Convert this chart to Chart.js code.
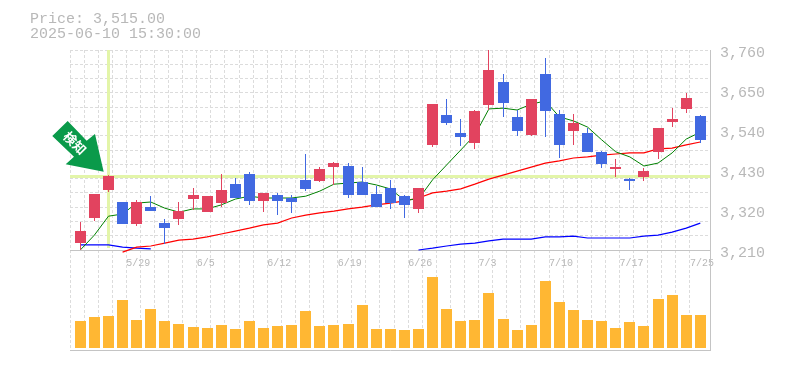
<!DOCTYPE html>
<html>
<head>
<meta charset="utf-8">
<script src="https://cdn.jsdelivr.net/npm/chart.js@4"></script>
<style>
  body { margin: 0; background: #fff; }
  canvas { display: block; }
</style>
</head>
<body>
<canvas id="MyChart" width="785" height="370"></canvas>
<script>
const dates = ['5/23','5/26','5/27','5/28','5/29','5/30','6/2','6/3','6/4','6/5','6/6','6/9','6/10','6/11','6/12','6/13','6/16','6/17','6/18','6/19','6/20','6/23','6/24','6/25','6/26','6/27','6/30','7/1','7/2','7/3','7/4','7/7','7/8','7/9','7/10','7/11','7/14','7/15','7/16','7/17','7/18','7/22','7/23','7/24','7/25'];
const opens = [3229,3298,3375,3342,3281,3328,3284,3295,3350,3314,3339,3391,3419,3345,3361,3353,3403,3400,3438,3441,3397,3364,3380,3358,3323,3499,3581,3532,3504,3609,3672,3576,3526,3694,3584,3537,3532,3480,3433,3405,3411,3480,3562,3598,3578];
const closes = [3262,3364,3413,3281,3342,3317,3270,3317,3361,3358,3375,3353,3345,3367,3345,3342,3378,3433,3449,3361,3361,3328,3339,3334,3380,3611,3559,3521,3592,3705,3614,3537,3625,3592,3499,3559,3480,3446,3438,3400,3427,3545,3570,3628,3513];
const highs = [3287,3364,3416,3342,3347,3358,3295,3342,3380,3358,3419,3408,3424,3367,3367,3361,3474,3438,3452,3449,3438,3386,3403,3361,3380,3611,3625,3570,3595,3760,3694,3595,3625,3738,3595,3584,3545,3482,3460,3408,3435,3545,3600,3642,3581];
const lows = [3210,3290,3370,3281,3276,3317,3226,3279,3320,3314,3328,3353,3334,3314,3306,3312,3372,3397,3389,3353,3361,3328,3323,3298,3312,3493,3554,3496,3488,3595,3576,3523,3523,3521,3463,3499,3480,3435,3411,3375,3400,3460,3548,3587,3504];
const maShort = [3210,3251,3303,3309,3339,3342,3325,3314,3323,3323,3334,3350,3358,3353,3353,3353,3358,3372,3391,3394,3397,3389,3378,3347,3350,3403,3444,3485,3526,3598,3600,3595,3611,3620,3576,3565,3548,3513,3480,3466,3441,3449,3477,3515,3534];
const maMid = [null,null,null,3204,3218,3221,3229,3237,3240,3246,3254,3262,3270,3279,3284,3298,3306,3312,3317,3323,3328,3334,3339,3345,3353,3367,3372,3378,3391,3405,3416,3427,3438,3449,3455,3463,3466,3471,3474,3477,3477,3488,3490,3499,3507];
const maLong = [3224,3224,3224,3218,3215,3213,null,null,null,null,null,null,null,null,null,null,null,null,null,null,null,null,null,null,3210,3215,3221,3226,3229,3235,3240,3240,3240,3246,3246,3248,3243,3243,3243,3243,3248,3251,3259,3270,3284];
const volumes = [27,31,32,48,28,39,27,24,21,20,23,19,27,20,22,23,37,22,23,24,43,19,19,18,19,71,39,27,28,55,29,18,23,67,46,38,28,27,20,26,22,49,53,33,33];
const priceTicks = [3210,3320,3430,3540,3650,3760];

const crossIndex = 2;
const crossPrice = 3412;
const headerLines = ['Price: 3,515.00', '2025-06-10 15:30:00'];
const arrowText = '検知';

const UP = '#e2435f';
const DOWN = '#4169e1';
const GRID = '#dcdcdc';
const AXIS = '#c4c4c4';
const TEXT = '#b8b8b8';
const MONO = '"Liberation Mono", monospace';
const STEP = 640 / 14.09; // slots across the plot width

function toPoints(values) {
  return values.map((v, i) => ({ x: i, y: v }));
}
function candleColors() {
  return closes.map((c, i) => (c >= opens[i] ? UP : DOWN));
}
function maLine(values, color, width) {
  return {
    type: 'line', data: toPoints(values), xAxisID: 'x', yAxisID: 'yPrice',
    borderColor: color, borderWidth: width, pointRadius: 0, tension: 0, order: 3
  };
}

// keeps bars on whole pixels like the original image
const snapBars = {
  id: 'snapBars',
  afterDatasetsUpdate(chart) {
    chart.getSortedVisibleDatasetMetas().forEach(meta => {
      if (meta.type !== 'bar') return;
      meta.data.forEach(el => {
        el.x = Math.floor(el.x) + 0.5;
        el.y = Math.round(el.y);
        el.base = Math.round(el.base);
        el.height = el.base - el.y;
      });
    });
  }
};

const crosshair = {
  id: 'crosshair',
  beforeDatasetsDraw(chart) {
    const { ctx, chartArea, scales } = chart;
    const px = Math.floor(scales.x.getPixelForValue(crossIndex)) + 0.5;
    const py = Math.floor(scales.yPrice.getPixelForValue(crossPrice)) + 0.5;
    const bottom = scales.yPrice.getPixelForValue(3210);
    ctx.save();
    ctx.strokeStyle = '#e3f5a9';
    ctx.lineWidth = 3;
    ctx.beginPath();
    ctx.moveTo(px, chartArea.top);
    ctx.lineTo(px, bottom - 2);
    ctx.moveTo(chartArea.left, py);
    ctx.lineTo(chartArea.right, py);
    ctx.stroke();
    ctx.restore();
  }
};

const overlay = {
  id: 'overlay',
  afterDraw(chart) {
    const { ctx, scales } = chart;
    ctx.save();
    ctx.fillStyle = TEXT;
    ctx.font = '15px ' + MONO;
    ctx.textBaseline = 'alphabetic';
    ctx.textAlign = 'left';
    ctx.fillText(headerLines[0], 30, 23);
    ctx.fillText(headerLines[1], 30, 38);

    // marker arrow, measured back from the crosshair point
    const tipX = scales.x.getPixelForValue(crossIndex) - 4.8;
    const tipY = scales.yPrice.getPixelForValue(crossPrice) - 4.8;
    const shape = [[0,0],[-8.7,-37.7],[-17,-31],[-36,-50.7],[-51.4,-35.7],[-29.7,-15],[-38,-7.4]];
    ctx.fillStyle = '#0a9a4a';
    ctx.beginPath();
    shape.forEach((p, i) => (i ? ctx.lineTo(tipX + p[0], tipY + p[1]) : ctx.moveTo(tipX + p[0], tipY + p[1])));
    ctx.closePath();
    ctx.fill();

    ctx.translate(tipX - 28.7, tipY - 28.7);
    ctx.rotate(Math.PI / 4);
    ctx.fillStyle = '#fff';
    ctx.font = 'bold 13px "Noto Sans CJK JP"';
    ctx.textAlign = 'center';
    ctx.textBaseline = 'middle';
    ctx.fillText(arrowText, 0, 0);
    ctx.restore();
  }
};

new Chart(document.getElementById('MyChart'), {
  data: {
    datasets: [
      { type: 'bar', label: 'Body', data: opens.map((o, i) => ({ x: i, y: [o, closes[i]] })),
        xAxisID: 'x', yAxisID: 'yPrice', backgroundColor: candleColors(), barThickness: 11,
        grouped: false, inflateAmount: 0, order: 1 },
      { type: 'bar', label: 'Wick', data: lows.map((l, i) => ({ x: i, y: [l, highs[i]] })),
        xAxisID: 'x', yAxisID: 'yPrice', backgroundColor: candleColors(), barThickness: 1,
        grouped: false, inflateAmount: 0, order: 2 },
      maLine(maShort, '#008000', 1),
      maLine(maMid, '#ff0000', 1.2),
      maLine(maLong, '#0000ff', 1.2),
      { type: 'bar', label: 'Volume', data: toPoints(volumes),
        xAxisID: 'x', yAxisID: 'yVolume', backgroundColor: '#ffb733', barThickness: 11,
        grouped: false, inflateAmount: 0, order: 4 }
    ]
  },
  options: {
    responsive: false,
    animation: false,
    layout: { padding: { left: 70, top: 50, right: 0, bottom: 20 } },
    plugins: { legend: { display: false }, tooltip: { enabled: false } },
    scales: {
      x: {
        type: 'linear', offset: false, min: -10.3 / 14.09, max: 44 + 9.7 / 14.09, position: 'bottom',
        grid: { display: false, drawTicks: false },
        ticks: { display: false },
        border: { color: AXIS }
      },
      xGrid: {
        type: 'linear', offset: false, min: 0, max: STEP, position: { yPrice: 3210 },
        grid: { color: GRID, drawTicks: false },
        border: { color: AXIS, dash: [3, 2] },
        ticks: {
          stepSize: 1, autoSkip: false, maxRotation: 0, align: 'start', padding: 7,
          color: TEXT, font: { family: MONO, size: 10 },
          callback: v => (v % 5 === 4 ? dates[v] : '')
        }
      },
      yPrice: {
        type: 'linear', min: 2935, max: 3760, position: 'right',
        grid: { display: false, drawTicks: false },
        border: { color: AXIS },
        afterBuildTicks: scale => { scale.ticks = priceTicks.map(v => ({ value: v })); },
        afterFit: scale => { scale.width = 75; },
        ticks: {
          padding: 10, labelOffset: 3, color: TEXT, font: { family: MONO, size: 15 },
          callback: v => v.toLocaleString('en-US')
        }
      },
      yGrid: {
        type: 'linear', min: 0, max: 21, position: 'left',
        grid: { color: c => (c.tick.value >= 7 ? GRID : 'transparent'), drawTicks: false },
        border: { display: false, dash: [3, 2] },
        ticks: { display: false, stepSize: 1 },
        afterFit: scale => { scale.width = 0; }
      },
      yVolume: {
        type: 'linear', min: -2, max: 298, display: false
      }
    }
  },
  plugins: [snapBars, crosshair, overlay]
});
</script>
</body>
</html>
